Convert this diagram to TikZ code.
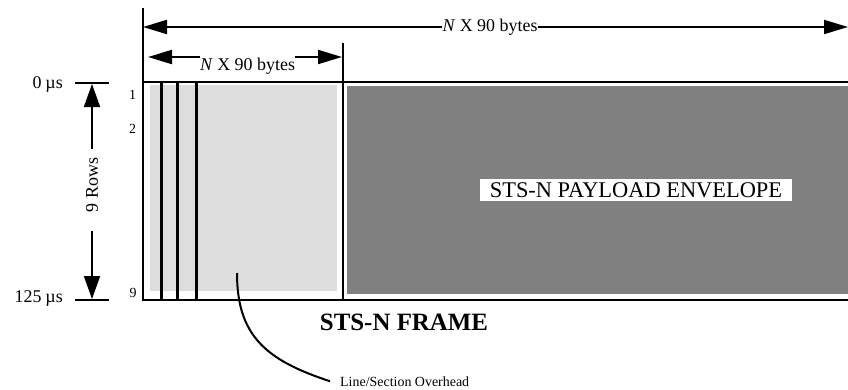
\documentclass[tikz,border=0pt]{standalone}
\usepackage{fontspec}
\setmainfont{Liberation Serif}
\usetikzlibrary{arrows.meta}
\definecolor{ohgray}{HTML}{DDDDDD}
\definecolor{spegray}{HTML}{808080}
\begin{document}
\begin{tikzpicture}[x=1bp,y=-1bp,
  frameline/.style={line width=2.5bp},
  dimline/.style={line width=2bp},
  hhead/.style={-{Triangle[length=24bp,width=14bp]}},
  vhead/.style={-{Triangle[length=23bp,width=16bp]}},
  lbl/.style={inner sep=0pt,font=\fontsize{18}{21}\selectfont},
  rowlbl/.style={inner sep=0pt,font=\fontsize{14}{16}\selectfont},
]
\useasboundingbox (0,0) rectangle (848,389);
\clip (0,0) rectangle (848,389);

% overhead and payload areas
\fill[ohgray] (150,85) rectangle (337,291);
\fill[spegray] (347,86) rectangle (850,294);

% frame outline
\draw[frameline] (850,82) -- (143,82) -- (143,300) -- (850,300);
\draw[frameline] (343,82) -- (343,300);
\foreach \x in {161.5,177.5,196.5}
  \draw[frameline] (\x,82) -- (\x,300);

% payload label
\node[fill=white,inner sep=0pt,minimum width=312bp,minimum height=22bp,
      font=\fontsize{22.5}{25}\selectfont] (spe) at (636,190) {STS-N PAYLOAD ENVELOPE};

% total width dimension
\draw[dimline] (143,8) -- (143,82);
\coordinate (totl) at (143,27);
\coordinate (totr) at (848,27);
\node[lbl] (wtot) at (490,27) {\textit{N} X 90 bytes};
\draw[dimline,hhead] (wtot.west) -- (totl);
\draw[dimline,hhead] (wtot.east) -- (totr);

% overhead width dimension
\draw[dimline] (343,43) -- (343,82);
\coordinate (sohl) at (148,57);
\coordinate (sohr) at (342,57);
\node[lbl,anchor=north] (wsoh) at (247.5,58) {\textit{N} X 90 bytes};
\draw[dimline,hhead] (wsoh.north west |- sohl) -- (sohl);
\draw[dimline,hhead] (wsoh.north east |- sohr) -- (sohr);

% time axis
\draw[dimline] (75,83) -- (109,83);
\draw[dimline] (75,300) -- (109,300);
\node[lbl,anchor=east] (t0) at (63,84) {0\hspace{4bp}µs};
\node[lbl,anchor=east] (t125) at (63,298) {125\hspace{4bp}µs};
\coordinate (ttop) at (92,84);
\coordinate (tbot) at (92,299);
\node[lbl,rotate=90] (rows) at (92,185) {9 Rows};
\draw[dimline,vhead,shorten <=9bp] (rows.east) -- (ttop);
\draw[dimline,vhead,shorten <=19bp] (rows.west) -- (tbot);

% row numbers
\node[rowlbl] (r1) at (132.5,95) {1};
\node[rowlbl] (r2) at (132.5,129) {2};
\node[rowlbl] (r9) at (133,293) {9};

% frame title
\node[inner sep=0pt,anchor=base,font=\bfseries\fontsize{25}{29}\selectfont] (title) at (404,330) {STS-N FRAME};

% overhead callout
\coordinate (ohpt) at (237,273);
\node[anchor=base west,inner ysep=0pt,inner xsep=10bp,font=\fontsize{14}{17}\selectfont] (oh) at (330,386) {Line/Section Overhead};
\draw[dimline] (ohpt) .. controls (237,335) and (265,360) .. (oh.west);
\end{tikzpicture}
\end{document}
